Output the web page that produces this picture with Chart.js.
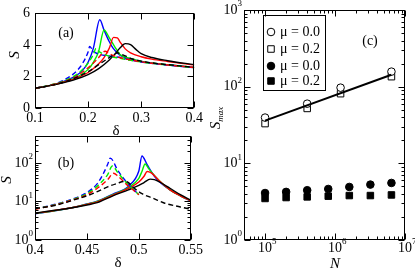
<!DOCTYPE html>
<html><head><meta charset="utf-8">
<script src="https://cdn.jsdelivr.net/npm/chart.js@4/dist/chart.umd.min.js"></script>
<style>
html,body{margin:0;padding:0;background:#fff}
body{width:415px;height:273px;overflow:hidden;position:relative}
canvas{position:absolute}
</style></head><body>
<canvas id="ca" width="205" height="140" style="left:0;top:0;width:205px;height:140px"></canvas>
<canvas id="cb" width="205" height="143" style="left:0;top:130px;width:205px;height:143px"></canvas>
<canvas id="cc" width="210" height="273" style="left:205px;top:0;width:210px;height:273px"></canvas>
<script>
const SERIF = '"Liberation Serif","Times New Roman",serif';

// ---------- Panel (a) ----------
const aXTicks = [0.1, 0.2, 0.3, 0.4];
const aYTicks = [0, 2, 4, 6];
const aBlackSolidX = [0.1,0.125,0.15,0.175,0.2,0.22,0.24,0.25,0.26,0.27,0.28,0.29,0.3,0.32,0.35,0.4];
const aBlackSolidY = [1.25,1.4,1.58,1.8,2.12,2.5,3.05,3.4,3.8,4.08,4.02,3.72,3.45,3.2,3.0,2.75];
const aRedSolidX = [0.1,0.125,0.15,0.175,0.2,0.22,0.23,0.24,0.248,0.255,0.26,0.27,0.28,0.3,0.32,0.35,0.4];
const aRedSolidY = [1.25,1.4,1.6,1.85,2.25,2.8,3.2,3.8,4.48,4.45,4.2,3.75,3.5,3.25,3.1,2.95,2.72];
const aGreenSolidX = [0.1,0.125,0.15,0.175,0.2,0.21,0.22,0.23,0.24,0.25,0.26,0.28,0.3,0.35,0.4];
const aGreenSolidY = [1.25,1.4,1.62,1.9,2.45,2.9,3.6,4.95,4.45,3.9,3.4,3.15,2.95,2.75,2.57];
const aBlueSolidX = [0.1,0.125,0.15,0.175,0.19,0.2,0.21,0.222,0.23,0.24,0.247,0.26,0.28,0.3,0.35,0.4];
const aBlueSolidY = [1.25,1.4,1.64,2.0,2.4,2.9,3.8,5.6,4.95,4.2,3.8,3.35,3.12,2.95,2.74,2.57];
const aBlackDashX = [0.1,0.125,0.15,0.175,0.2,0.22,0.24,0.25,0.255,0.26,0.27,0.28,0.3,0.35,0.4];
const aBlackDashY = [1.25,1.4,1.6,1.9,2.3,2.75,3.2,3.42,3.5,3.45,3.3,3.15,2.97,2.75,2.58];
const aRedDashX = [0.1,0.125,0.15,0.175,0.2,0.21,0.22,0.232,0.24,0.25,0.26,0.28,0.3,0.35,0.4];
const aRedDashY = [1.25,1.41,1.63,1.95,2.55,2.85,3.2,3.6,3.45,3.3,3.2,3.05,2.93,2.73,2.57];
const aGreenDashX = [0.1,0.125,0.15,0.175,0.19,0.2,0.21,0.215,0.22,0.23,0.24,0.26,0.28,0.3,0.35,0.4];
const aGreenDashY = [1.25,1.42,1.66,2.05,2.45,2.85,3.4,3.78,3.6,3.4,3.28,3.15,3.02,2.92,2.72,2.56];
const aBlueDashX = [0.1,0.125,0.15,0.17,0.18,0.19,0.2,0.203,0.21,0.22,0.24,0.26,0.28,0.3,0.35,0.4];
const aBlueDashY = [1.25,1.42,1.7,2.1,2.4,2.85,3.55,3.9,3.6,3.42,3.3,3.2,3.05,2.92,2.72,2.56];

// ---------- Panel (b) ----------
const bXTicks = [0.4, 0.45, 0.5, 0.55];
const bYDecades = [1, 10, 100];
const bYMinor = [2,3,4,5,6,7,8,9,20,30,40,50,60,70,80,90,200,300,400];
const bBlackSolidX = [0.4,0.42,0.44,0.45,0.46,0.475,0.49,0.5,0.505,0.511,0.515,0.52,0.53,0.54,0.55];
const bBlackSolidY = [5.0,5.9,7.2,8.1,9.3,14,20,26,31,38,37,32,22,15,10.8];
const bRedSolidX = [0.4,0.42,0.44,0.45,0.46,0.475,0.49,0.5,0.505,0.508,0.512,0.52,0.53,0.54,0.55];
const bRedSolidY = [4.9,5.9,7.3,8.4,9.8,14.5,22,32,45,60,55,34,20,14,10.5];
const bGreenSolidX = [0.4,0.42,0.44,0.45,0.46,0.475,0.49,0.5,0.503,0.506,0.51,0.52,0.53,0.54,0.55];
const bGreenSolidY = [4.85,5.85,7.3,8.5,10,15,23,40,60,94,68,34,20,14,10.5];
const bBlueSolidX = [0.4,0.42,0.44,0.45,0.46,0.475,0.49,0.5,0.503,0.508,0.515,0.52,0.53,0.54,0.55];
const bBlueSolidY = [4.8,5.8,7.3,8.6,10.2,15.5,25,62,152,90,45,32,20,14,10.2];
const bBlackDashX = [0.4,0.42,0.44,0.45,0.46,0.47,0.48,0.485,0.49,0.494,0.503,0.514,0.525,0.54,0.55];
const bBlackDashY = [6.5,8.0,11.5,14,18,24,30,33,31,24,16,12,9,7.2,6.3];
const bRedDashX = [0.4,0.42,0.44,0.45,0.46,0.47,0.4756,0.48,0.49,0.5];
const bRedDashY = [6.3,8.2,11.8,15,22,37,54,45,25,15];
const bGreenDashX = [0.4,0.42,0.44,0.45,0.46,0.47,0.4745,0.48,0.49,0.5];
const bGreenDashY = [6.4,8.3,12.2,16,25,50,83,55,27,15];
const bBlueDashX = [0.4,0.42,0.44,0.45,0.46,0.465,0.47,0.4725,0.48,0.49,0.5];
const bBlueDashY = [6.5,8.5,12.6,17,29,48,92,133,62,28,15];

// ---------- Panel (c) ----------
const cXDecades = [1e5, 1e6, 1e7];
const cXMinor = [5e4,6e4,7e4,8e4,9e4,2e5,3e5,4e5,5e5,6e5,7e5,8e5,9e5,2e6,3e6,4e6,5e6,6e6,7e6,8e6,9e6];
const cYDecades = [1, 10, 100, 1000];
const cYMinor = [2,3,4,5,6,7,8,9,20,30,40,50,60,70,80,90,200,300,400,500,600,700,800,900];
const cOpenN = [1e5, 4e5, 1.2e6, 6.4e6];
const cOpenCircleS = [39.5, 60, 97, 157];
const cOpenSquareS = [33, 52, 81, 135];
const cFilledN = [1e5, 2e5, 4e5, 8e5, 1.6e6, 3.2e6, 6.4e6];
const cFilledCircleS = [4.1, 4.24, 4.46, 4.63, 4.92, 5.28, 5.55];
const cFilledSquareS = [3.48, 3.58, 3.65, 3.73, 3.8, 3.8, 3.87];
const cFitN = [1e5, 6.4e6];
const cFitS = [36, 143];
const cLegendLabels = ['\u03bc = 0.0', '\u03bc = 0.2', '\u03bc = 0.0', '\u03bc = 0.2'];

const BLACK='#000000', RED='#ff0000', GREEN='#00ee00', BLUE='#0000ff';

function pts(xs, ys){ return xs.map((x,i)=>({x:x, y:ys[i]})); }
function lineDs(xs, ys, color, dashed){
  return {data:pts(xs,ys), borderColor:color, backgroundColor:color, borderWidth:1.4,
    borderDash: dashed?[5,3]:[], pointRadius:0, fill:false, cubicInterpolationMode:'monotone'};
}

const deco = {
  id:'deco',
  afterDraw(chart){
    const o = chart.options.plugins.deco; if(!o) return;
    const ctx = chart.ctx, a = chart.chartArea;
    ctx.save();
    ctx.strokeStyle='#000'; ctx.lineWidth=1; ctx.setLineDash([]);
    const L=Math.round(a.left)+0.5, R=Math.round(a.right)-0.5, T=Math.round(a.top)+0.5, B=Math.round(a.bottom)-0.5;
    ctx.strokeRect(L, T, R-L, B-T);
    for(const t of (o.ticks||[])){
      const s = chart.scales[t.id]; const hz = s.isHorizontal();
      const groups = [[t.major, t.majorLen||6],[t.minor||[], t.minorLen||3]];
      for(const g of groups){
        for(const v of g[0]){
          const p = Math.round(s.getPixelForValue(v))+0.5; const len=g[1];
          ctx.beginPath();
          if(hz){ ctx.moveTo(p,B); ctx.lineTo(p,B-len); ctx.moveTo(p,T); ctx.lineTo(p,T+len); }
          else { ctx.moveTo(L,p); ctx.lineTo(L+len,p); ctx.moveTo(R,p); ctx.lineTo(R-len,p); }
          ctx.stroke();
        }
      }
    }
    ctx.fillStyle='#000';
    for(const pl of (o.pow||[])){
      const s = chart.scales[pl.id];
      for(const v of pl.values){
        const e = String(Math.round(Math.log10(v)));
        const p = s.getPixelForValue(v);
        ctx.font = '14px '+SERIF; const w10 = ctx.measureText('10').width;
        ctx.font = '9px '+SERIF; const we = ctx.measureText(e).width;
        let x, y;
        if(s.isHorizontal()){ x = p - w10/2; y = a.bottom + pl.offset; }
        else { x = a.left - pl.offset - w10 - we; y = p; }
        ctx.textBaseline='middle'; ctx.textAlign='left';
        ctx.font='14px '+SERIF; ctx.fillText('10', x, y);
        ctx.font='9px '+SERIF; ctx.fillText(e, x+w10, y-6);
      }
    }
    for(const tx of (o.texts||[])){
      ctx.save();
      ctx.translate(tx.x, tx.y);
      if(tx.rot) ctx.rotate(tx.rot);
      ctx.textBaseline='middle';
      const parts = tx.parts || [{t:tx.t, font:tx.font}];
      let total=0;
      for(const pp of parts){ ctx.font=pp.font; total += ctx.measureText(pp.t).width; }
      let x = -total/2;
      for(const pp of parts){ ctx.font=pp.font; ctx.textAlign='left'; ctx.fillText(pp.t, x, pp.dy||0); x += ctx.measureText(pp.t).width; }
      ctx.restore();
    }
    if(o.legend){
      const lg=o.legend;
      ctx.strokeRect(lg.box[0]+0.5, lg.box[1]+0.5, lg.box[2], lg.box[3]);
      lg.items.forEach((it,i)=>{
        const ds = chart.data.datasets[it.ds];
        const x=lg.mx, y=lg.ys[i];
        ctx.beginPath();
        if(ds.pointStyle==='rect'){ const h=ds.pointRadius*Math.SQRT1_2; ctx.rect(x-h,y-h,2*h,2*h); }
        else ctx.arc(x,y,ds.pointRadius,0,Math.PI*2);
        ctx.fillStyle=ds.pointBackgroundColor; ctx.fill();
        ctx.strokeStyle='#000'; ctx.lineWidth=1; ctx.stroke();
        ctx.fillStyle='#000'; ctx.font='14px '+SERIF; ctx.textAlign='left'; ctx.textBaseline='middle';
        ctx.fillText(lg.labels[i], lg.tx, y);
      });
    }
    ctx.restore();
  }
};

function linAxis(ticksArr, fit, pad, min, max, horiz){
  return {type:'linear', min:min, max:max,
    afterFit: s=>{ if(horiz) s.height=fit; else s.width=fit; },
    afterBuildTicks: s=>{ s.ticks = ticksArr.map(v=>({value:v})); },
    grid:{display:false, drawTicks:false}, border:{display:false},
    ticks:{autoSkip:false, maxRotation:0, padding:pad, color:'#000', font:{family:SERIF, size:14}, callback:v=>String(v)}};
}
function logAxis(fit, min, max, horiz){
  return {type:'logarithmic', min:min, max:max,
    afterFit: s=>{ if(horiz) s.height=fit; else s.width=fit; },
    grid:{display:false, drawTicks:false}, border:{display:false}, ticks:{display:false}};
}
const baseOpts = {responsive:false, animation:false, devicePixelRatio:1, events:[]};

Chart.register(deco);

// Panel (a)
new Chart(document.getElementById('ca'), {
  type:'line',
  data:{datasets:[
    lineDs(aBlackDashX,aBlackDashY,BLACK,true), lineDs(aRedDashX,aRedDashY,RED,true),
    lineDs(aGreenDashX,aGreenDashY,GREEN,true), lineDs(aBlueDashX,aBlueDashY,BLUE,true),
    lineDs(aBlackSolidX,aBlackSolidY,BLACK,false), lineDs(aRedSolidX,aRedSolidY,RED,false),
    lineDs(aGreenSolidX,aGreenSolidY,GREEN,false), lineDs(aBlueSolidX,aBlueSolidY,BLUE,false)
  ]},
  options:Object.assign({}, baseOpts, {
    layout:{padding:{top:8,right:8,left:0,bottom:0}},
    scales:{ x: linAxis(aXTicks, 32, 2, 0.1, 0.4, true), y: linAxis(aYTicks, 35, 5, 0, 6, false) },
    plugins:{legend:{display:false}, tooltip:{enabled:false},
      deco:{ ticks:[{id:'x', major:aXTicks},{id:'y', major:aYTicks}],
        texts:[{t:'(a)', font:'14px '+SERIF, x:66, y:33},
               {t:'\u03b4', font:'15px '+SERIF, x:116, y:131},
               {t:'S', font:'italic 15px '+SERIF, x:15, y:55, rot:-Math.PI/2}] } }
  })
});

// Panel (b)
new Chart(document.getElementById('cb'), {
  type:'line',
  data:{datasets:[
    lineDs(bBlackDashX,bBlackDashY,BLACK,true), lineDs(bRedDashX,bRedDashY,RED,true),
    lineDs(bGreenDashX,bGreenDashY,GREEN,true), lineDs(bBlueDashX,bBlueDashY,BLUE,true),
    lineDs(bBlackSolidX,bBlackSolidY,BLACK,false), lineDs(bRedSolidX,bRedSolidY,RED,false),
    lineDs(bGreenSolidX,bGreenSolidY,GREEN,false), lineDs(bBlueSolidX,bBlueSolidY,BLUE,false)
  ]},
  options:Object.assign({}, baseOpts, {
    layout:{padding:{top:6,right:8,left:0,bottom:0}},
    scales:{ x: linAxis(bXTicks, 33, 2, 0.4, 0.55, true), y: logAxis(35, 1, 500, false) },
    plugins:{legend:{display:false}, tooltip:{enabled:false},
      deco:{ ticks:[{id:'x', major:bXTicks},{id:'y', major:bYDecades, minor:bYMinor}],
        pow:[{id:'y', values:bYDecades, offset:2}],
        texts:[{t:'(b)', font:'14px '+SERIF, x:66, y:33},
               {t:'\u03b4', font:'15px '+SERIF, x:118, y:133},
               {t:'S', font:'italic 15px '+SERIF, x:7, y:50, rot:-Math.PI/2}] } }
  })
});

// Panel (c)
function markerDs(xs, ys, style, filled, r){
  return {type:'scatter', data:pts(xs,ys), pointStyle:style, pointRadius:r, borderWidth:1,
    pointBackgroundColor: filled?'#000':'#fff', pointBorderColor:'#000', showLine:false};
}
new Chart(document.getElementById('cc'), {
  type:'scatter',
  data:{datasets:[
    {type:'line', data:pts(cFitN,cFitS), borderColor:'#000', borderWidth:2, pointRadius:0, fill:false},
    markerDs(cOpenN, cOpenCircleS, 'circle', false, 3.8),
    markerDs(cOpenN, cOpenSquareS, 'rect', false, 4.6),
    markerDs(cFilledN, cFilledCircleS, 'circle', true, 3.8),
    markerDs(cFilledN, cFilledSquareS, 'rect', true, 4.6)
  ]},
  options:Object.assign({}, baseOpts, {
    layout:{padding:{top:10,right:10,left:0,bottom:0}},
    scales:{ x: logAxis(33, 5e4, 1e7, true), y: logAxis(39, 1, 1000, false) },
    plugins:{legend:{display:false}, tooltip:{enabled:false},
      deco:{ ticks:[{id:'x', major:cXDecades, minor:cXMinor},{id:'y', major:cYDecades, minor:cYMinor}],
        pow:[{id:'y', values:cYDecades, offset:2},{id:'x', values:cXDecades, offset:8}],
        texts:[{t:'(c)', font:'14px '+SERIF, x:165, y:41},
               {t:'N', font:'italic 15px '+SERIF, x:130, y:264},
               {parts:[{t:'S', font:'italic 15px '+SERIF},{t:'max', font:'italic 9px '+SERIF, dy:5}], x:11, y:118, rot:-Math.PI/2}],
        legend:{box:[58,15,62,75], mx:66, tx:75, ys:[32,49,66,81], labels:cLegendLabels,
          items:[{ds:1},{ds:2},{ds:3},{ds:4}]} } }
  })
});
</script>
</body></html>
